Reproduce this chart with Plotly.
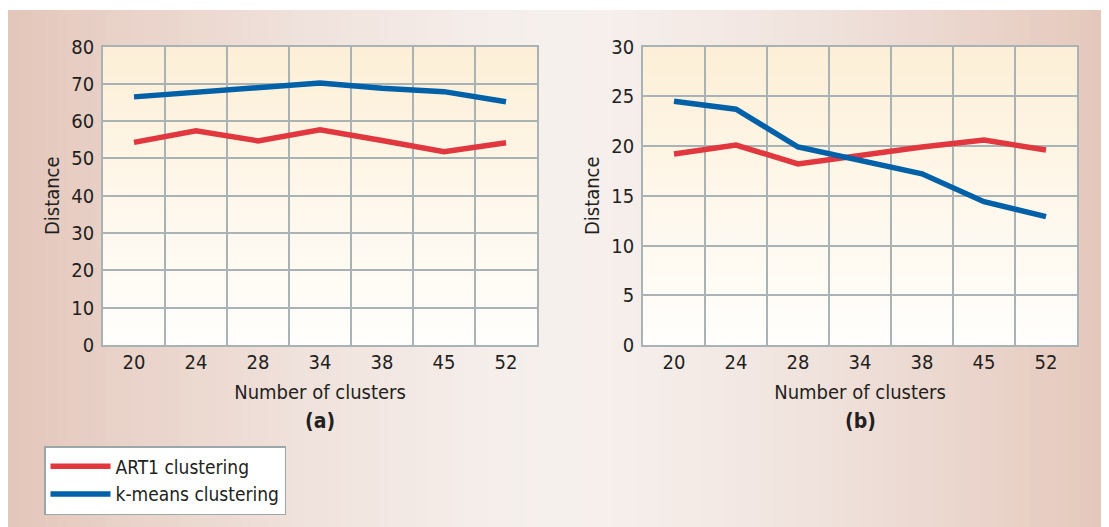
import plotly.graph_objects as go

categories = ["20", "24", "28", "34", "38", "45", "52"]
a_art1 = [54.3, 57.4, 54.7, 57.7, 54.8, 51.8, 54.2]
a_kmeans = [66.5, 67.7, 68.9, 70.2, 68.8, 67.9, 65.2]
b_art1 = [19.2, 20.1, 18.2, 19.1, 19.9, 20.6, 19.6]
b_kmeans = [24.5, 23.7, 19.9, 18.5, 17.2, 14.4, 12.9]

W, H = 1109, 527
OFF = 8  # page body margin: figure pixel = screen pixel - OFF
FONT = "Liberation Sans Narrow, Arial Narrow, DejaVu Sans Condensed, sans-serif"
TXT = "#231f20"
RED = "#e1373f"
BLUE = "#0061a9"
GRID = "#a9b3b6"


def px(x):
    return (x - OFF) / W


def py(y):
    return 1 - (y - OFF) / H


def mix(c1, c2, t):
    a = [int(c1[i:i + 2], 16) for i in (1, 3, 5)]
    b = [int(c2[i:i + 2], 16) for i in (1, 3, 5)]
    return "#" + "".join(f"{round(a[k] + (b[k] - a[k]) * t):02x}" for k in range(3))


fig = go.Figure()

fig.add_trace(go.Scatter(x=categories, y=a_art1, mode="lines", name="ART1 clustering",
                         line=dict(color=RED, width=5.5), xaxis="x", yaxis="y"))
fig.add_trace(go.Scatter(x=categories, y=a_kmeans, mode="lines", name="k-means clustering",
                         line=dict(color=BLUE, width=5.5), xaxis="x", yaxis="y"))
fig.add_trace(go.Scatter(x=categories, y=b_art1, mode="lines", name="ART1 clustering",
                         line=dict(color=RED, width=5.5), xaxis="x2", yaxis="y2", showlegend=False))
fig.add_trace(go.Scatter(x=categories, y=b_kmeans, mode="lines", name="k-means clustering",
                         line=dict(color=BLUE, width=5.5), xaxis="x2", yaxis="y2", showlegend=False))

shapes = []
# page background gradient (pink edges, light centre)
top = py(10)
N = 90
for i in range(N):
    xa = i / N
    xb = (i + 1) / N + 0.002
    xc = (xa + xb) / 2 * W + OFF
    t = min(1.0, abs(xc - 565) / 545)
    col = mix("#f6f0ed", "#e4c7bb", t ** 1.4)
    shapes.append(dict(type="rect", xref="paper", yref="paper", x0=xa, x1=min(xb, 1), y0=0, y1=top,
                       fillcolor=col, line=dict(width=0), layer="below"))
# plot area vertical gradients
M = 40
for xr, yr in (("x domain", "y domain"), ("x2 domain", "y2 domain")):
    for i in range(M):
        ya = i / M
        yb = (i + 1) / M + 0.003
        col = mix("#fffefc", "#fdefd6", ((i + 0.5) / M) ** 1.1)
        shapes.append(dict(type="rect", xref=xr, yref=yr, x0=0, x1=1, y0=ya, y1=min(yb, 1),
                           fillcolor=col, line=dict(width=0), layer="below"))

xd1 = [px(103), px(537)]
xd2 = [px(643), px(1077)]
yd = [py(345), py(46.5)]

axis_font = dict(family=FONT, size=20, color=TXT)
xcommon = dict(type="category", categoryorder="array", categoryarray=categories,
               range=[-0.5, 6.5], tickson="boundaries", showgrid=True, gridcolor=GRID, gridwidth=1.5,
               showline=True, linecolor=GRID, linewidth=1.5, mirror=True, ticks="",
               tickfont=axis_font, automargin=False, ticklabelstandoff=-2,
               title=dict(text="Number of clusters", font=axis_font, standoff=12))
ycommon = dict(showgrid=True, gridcolor=GRID, gridwidth=1.5, showline=True, linecolor=GRID,
               linewidth=1.5, mirror=True, ticks="", tickfont=axis_font, automargin=False,
               ticklabelstandoff=3, zeroline=False,
               title=dict(text="Distance", font=axis_font, standoff=6))

fig.update_layout(
    width=W, height=H,
    margin=dict(l=0, r=0, t=0, b=0),
    paper_bgcolor="white", plot_bgcolor="rgba(0,0,0,0)",
    font=dict(family=FONT, color=TXT),
    xaxis=dict(domain=xd1, anchor="y", **xcommon),
    yaxis=dict(domain=yd, anchor="x", range=[0, 80], dtick=10, **ycommon),
    xaxis2=dict(domain=xd2, anchor="y2", **xcommon),
    yaxis2=dict(domain=yd, anchor="x2", range=[0, 30], dtick=5, **ycommon),
    shapes=shapes,
    showlegend=True,
    legend=dict(x=px(44), y=py(446), xanchor="left", yanchor="top",
                bgcolor="white", bordercolor="#9aa7ab", borderwidth=1.5,
                font=dict(family=FONT, size=19, color=TXT), itemwidth=60,
                tracegroupgap=0),
    annotations=[
        dict(text="<b>(a)</b>", x=px(320), y=py(421), xref="paper", yref="paper",
             xanchor="center", yanchor="middle",
             showarrow=False, font=dict(family=FONT, size=21, color=TXT)),
        dict(text="<b>(b)</b>", x=px(860), y=py(421), xref="paper", yref="paper",
             xanchor="center", yanchor="middle",
             showarrow=False, font=dict(family=FONT, size=21, color=TXT)),
    ],
)

fig.write_html("out.html")
